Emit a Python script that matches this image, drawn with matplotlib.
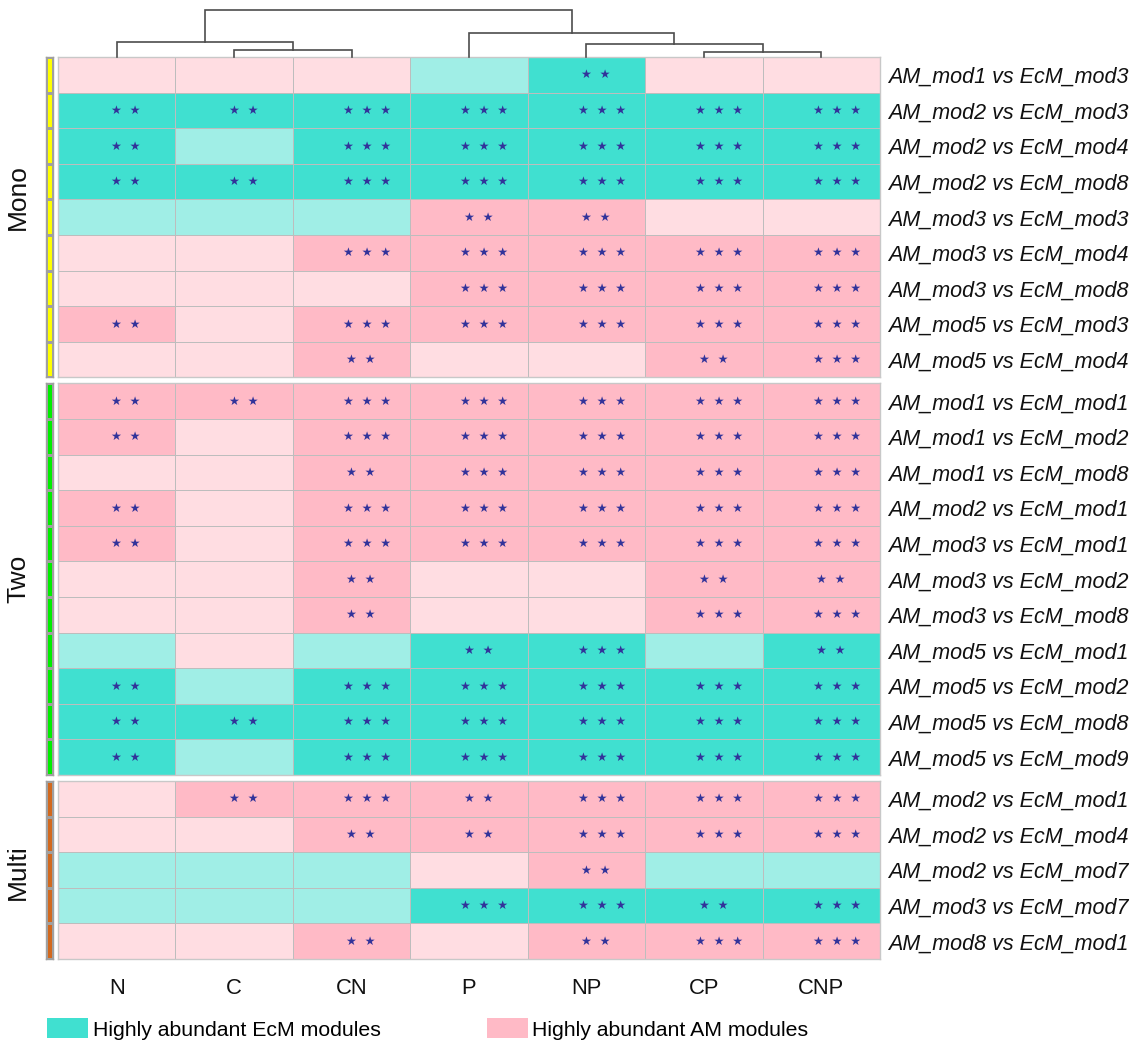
import matplotlib
matplotlib.use("Agg")
import matplotlib.pyplot as plt
from matplotlib.colors import ListedColormap, BoundaryNorm
from matplotlib.patches import Patch
import numpy as np

plt.rcParams['font.family'] = ['Liberation Sans', 'DejaVu Sans']

# ---------------- data ----------------
columns = ['N', 'C', 'CN', 'P', 'NP', 'CP', 'CNP']

mono_labels = ['AM_mod1 vs EcM_mod3', 'AM_mod2 vs EcM_mod3', 'AM_mod2 vs EcM_mod4',
               'AM_mod2 vs EcM_mod8', 'AM_mod3 vs EcM_mod3', 'AM_mod3 vs EcM_mod4',
               'AM_mod3 vs EcM_mod8', 'AM_mod5 vs EcM_mod3', 'AM_mod5 vs EcM_mod4']
# -2 strong EcM, -1 weak EcM, 1 weak AM, 2 strong AM
mono_vals = [[1, 1, 1, -1, -2, 1, 1],
             [-2, -2, -2, -2, -2, -2, -2],
             [-2, -1, -2, -2, -2, -2, -2],
             [-2, -2, -2, -2, -2, -2, -2],
             [-1, -1, -1, 2, 2, 1, 1],
             [1, 1, 2, 2, 2, 2, 2],
             [1, 1, 1, 2, 2, 2, 2],
             [2, 1, 2, 2, 2, 2, 2],
             [1, 1, 2, 1, 1, 2, 2]]
mono_stars = [[0, 0, 0, 0, 2, 0, 0],
              [2, 2, 3, 3, 3, 3, 3],
              [2, 0, 3, 3, 3, 3, 3],
              [2, 2, 3, 3, 3, 3, 3],
              [0, 0, 0, 2, 2, 0, 0],
              [0, 0, 3, 3, 3, 3, 3],
              [0, 0, 0, 3, 3, 3, 3],
              [2, 0, 3, 3, 3, 3, 3],
              [0, 0, 2, 0, 0, 2, 3]]

two_labels = ['AM_mod1 vs EcM_mod1', 'AM_mod1 vs EcM_mod2', 'AM_mod1 vs EcM_mod8',
              'AM_mod2 vs EcM_mod1', 'AM_mod3 vs EcM_mod1', 'AM_mod3 vs EcM_mod2',
              'AM_mod3 vs EcM_mod8', 'AM_mod5 vs EcM_mod1', 'AM_mod5 vs EcM_mod2',
              'AM_mod5 vs EcM_mod8', 'AM_mod5 vs EcM_mod9']
two_vals = [[2, 2, 2, 2, 2, 2, 2],
            [2, 1, 2, 2, 2, 2, 2],
            [1, 1, 2, 2, 2, 2, 2],
            [2, 1, 2, 2, 2, 2, 2],
            [2, 1, 2, 2, 2, 2, 2],
            [1, 1, 2, 1, 1, 2, 2],
            [1, 1, 2, 1, 1, 2, 2],
            [-1, 1, -1, -2, -2, -1, -2],
            [-2, -1, -2, -2, -2, -2, -2],
            [-2, -2, -2, -2, -2, -2, -2],
            [-2, -1, -2, -2, -2, -2, -2]]
two_stars = [[2, 2, 3, 3, 3, 3, 3],
             [2, 0, 3, 3, 3, 3, 3],
             [0, 0, 2, 3, 3, 3, 3],
             [2, 0, 3, 3, 3, 3, 3],
             [2, 0, 3, 3, 3, 3, 3],
             [0, 0, 2, 0, 0, 2, 2],
             [0, 0, 2, 0, 0, 3, 3],
             [0, 0, 0, 2, 3, 0, 2],
             [2, 0, 3, 3, 3, 3, 3],
             [2, 2, 3, 3, 3, 3, 3],
             [2, 0, 3, 3, 3, 3, 3]]

multi_labels = ['AM_mod2 vs EcM_mod1', 'AM_mod2 vs EcM_mod4', 'AM_mod2 vs EcM_mod7',
                'AM_mod3 vs EcM_mod7', 'AM_mod8 vs EcM_mod1']
multi_vals = [[1, 2, 2, 2, 2, 2, 2],
              [1, 1, 2, 2, 2, 2, 2],
              [-1, -1, -1, 1, 2, -1, -1],
              [-1, -1, -1, -2, -2, -2, -2],
              [1, 1, 2, 1, 2, 2, 2]]
multi_stars = [[0, 2, 3, 2, 3, 3, 3],
               [0, 0, 2, 2, 3, 3, 3],
               [0, 0, 0, 0, 2, 0, 0],
               [0, 0, 0, 3, 3, 2, 3],
               [0, 0, 2, 0, 2, 3, 3]]

group_names = ['Mono', 'Two', 'Multi']
group_colors = ['#FFFF00', '#00EE00', '#D2691E']

# column dendrogram merges: (left node, right node, height); leaves 0..6 in display order
dendro_merges = [(5, 6, 5), (1, 2, 7), (4, 7, 13), (0, 8, 15), (3, 9, 24), (10, 11, 47)]

legend_labels = ['Highly abundant EcM modules', 'Highly abundant AM modules']

# ---------------- style ----------------
W, H = 1138, 1044
fig = plt.figure(figsize=(W / 100, H / 100), dpi=100)

def fx(x):
    return x / W

def fy(y):
    return 1 - y / H

cmap = ListedColormap(['#40E0D0', '#A0EEE6', '#FFDDE2', '#FFBAC6'])
norm = BoundaryNorm([-2.5, -1.5, 0, 1.5, 2.5], cmap.N)
grid_col = '#BDBDBD'
star_col = '#32339A'

hm_left, hm_right = 58, 880
row_h = 35.6
gap = 6
top = 57
group_label_shift = [-20, 0, 2]  # px, vertical nudge of the group titles

groups = [(mono_labels, mono_vals, mono_stars),
          (two_labels, two_vals, two_stars),
          (multi_labels, multi_vals, multi_stars)]

y0 = top
ncol = len(columns)
for gi, (labels, vals, stars) in enumerate(groups):
    nr = len(labels)
    y1 = y0 + nr * row_h
    ax = fig.add_axes([fx(hm_left), fy(y1), fx(hm_right - hm_left), (y1 - y0) / H])
    V = np.array(vals, dtype=float)
    ax.pcolormesh(np.arange(ncol + 1), np.arange(nr + 1), V, cmap=cmap, norm=norm,
                  edgecolors=grid_col, linewidth=0.6)
    ax.set_xlim(0, ncol)
    ax.set_ylim(nr, 0)
    for s in ax.spines.values():
        s.set_color('#C8C8C8')
        s.set_linewidth(1.0)
    for i in range(nr):
        for j in range(ncol):
            n = stars[i][j]
            if n > 0:
                txt = '  '.join(['\u2605'] * n)
                ax.text(j + 0.5 + (6 * n - 2.5) / 117.4, i + 0.5, txt, ha='center', va='center',
                        fontsize=8.7, color=star_col, family='DejaVu Sans')
    ax.yaxis.tick_right()
    ax.set_yticks(np.arange(nr) + 0.5)
    ax.set_yticklabels(labels, fontsize=15.5, style='italic', color='#111111')
    ax.tick_params(axis='y', length=0, pad=5.5)
    if gi == len(groups) - 1:
        ax.set_xticks(np.arange(ncol) + 0.5)
        ax.set_xticklabels(columns, fontsize=15.8, color='#111111')
        ax.tick_params(axis='x', length=0, pad=14)
    else:
        ax.set_xticks([])

    # annotation bar
    axa = fig.add_axes([fx(46), fy(y1), fx(7), (y1 - y0) / H])
    axa.pcolormesh([0, 1], np.arange(nr + 1), np.zeros((nr, 1)),
                   cmap=ListedColormap([group_colors[gi]]), edgecolors='#A0A0A0', linewidth=1.0)
    axa.set_xlim(0, 1)
    axa.set_ylim(nr, 0)
    axa.set_xticks([])
    axa.set_yticks([])
    for s in axa.spines.values():
        s.set_color('#A0A0A0')
        s.set_linewidth(1.0)
    fig.text(fx(18), fy((y0 + y1) / 2 + group_label_shift[gi]), group_names[gi], rotation=90,
             ha='center', va='center', fontsize=19, color='#111111')
    y0 = y1 + gap

# ---------------- dendrogram ----------------
axd = fig.add_axes([fx(hm_left), fy(top), fx(hm_right - hm_left), (top - 10) / H])
pos = {i: i + 0.5 for i in range(ncol)}
hgt = {i: 0.0 for i in range(ncol)}
node = ncol
for a, b, h in dendro_merges:
    axd.plot([pos[a], pos[a], pos[b], pos[b]], [hgt[a], h, h, hgt[b]],
             color='#4D4D4D', lw=1.2, solid_joinstyle='miter', clip_on=False)
    pos[node] = (pos[a] + pos[b]) / 2
    hgt[node] = h
    node += 1
axd.set_xlim(0, ncol)
axd.set_ylim(0, max(m[2] for m in dendro_merges))
axd.axis('off')

# ---------------- legend ----------------
handles = [Patch(facecolor='#40E0D0', edgecolor='none'), Patch(facecolor='#FFBAC6', edgecolor='none')]
fig.legend(handles, legend_labels, loc='center left', bbox_to_anchor=(fx(47), fy(1029)),
           ncol=2, frameon=False, fontsize=15.3, handlelength=1.95, handleheight=1.05,
           handletextpad=0.2, columnspacing=5.0, borderpad=0, borderaxespad=0)

fig.savefig('out.png', dpi=100)
